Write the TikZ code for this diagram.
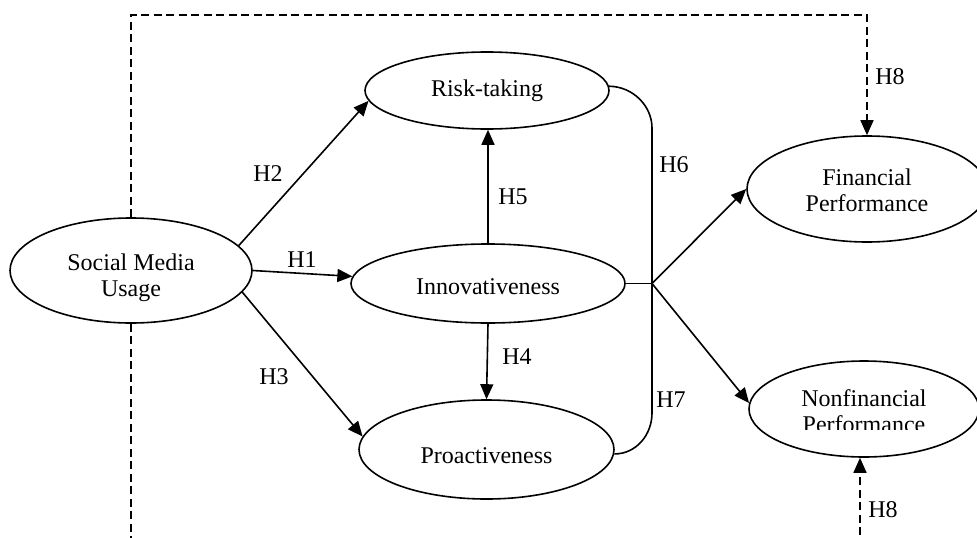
\documentclass[tikz,border=0pt]{standalone}
\usepackage{fontspec}
\setmainfont{Liberation Serif}
\usetikzlibrary{arrows.meta,shapes.geometric}
\begin{document}
\begin{tikzpicture}[x=1pt,y=-1pt,line width=1.6pt,
  every node/.style={font=\fontsize{24}{26}\selectfont},
  ell/.style={draw,ellipse,inner sep=0pt},
  txt/.style={inner sep=0pt,align=center},
  lbl/.style={inner sep=0pt},
  arr/.style={-{Triangle[length=15pt,width=13pt]}},
  dsh/.style={dash pattern=on 8pt off 4.5pt}]
\useasboundingbox (0,0) rectangle (977,538);
% ellipses
\node[ell,minimum width=242pt,minimum height=105pt] (smu) at (131,270.5) {};
\node[ell,minimum width=244pt,minimum height=77pt] (risk) at (487,90.5) {};
\node[ell,minimum width=274pt,minimum height=79pt] (innov) at (488,283.5) {};
\node[ell,minimum width=255pt,minimum height=99pt] (proact) at (486.5,449.5) {};
\node[ell,minimum width=240pt,minimum height=106pt] (fin) at (867,189) {};
\node[ell,minimum width=230pt,minimum height=96pt] (nonfin) at (864,409) {};
% texts
\node[txt] (smut) at (131,277.5) {Social Media\\Usage};
\node[txt] (riskt) at (487,90.5) {Risk-taking};
\node[txt] (innovt) at (488,286.5) {Innovativeness};
\node[txt] (proactt) at (486.5,455.5) {Proactiveness};
\node[txt] (fint) at (867,190.5) {Financial\\Performance};
\begin{scope}
  \clip (740,350) rectangle (990,429);
  \node[txt] (nonfint) at (864,411) {Nonfinancial\\Performance};
\end{scope}
% coordinates
\coordinate (jn) at (652,283.5);
\coordinate (tl) at (131,15);
\coordinate (tr) at (867,15);
\coordinate (bl) at (131,560);
\coordinate (br) at (860,560);
% solid arrows
\draw[arr] (smu.east) -- (innov.177);
\draw[arr] (smu.13) -- (risk.185);
\draw[arr] (smu.-11) -- (proact.174);
\draw[arr] (innov.north) -- (innov.north |- risk.south);
\draw[arr] (innov.south) -- (proact.north);
% bracket
\draw (risk.2) .. controls (633,86.5) and (652,106) .. (652,128) -- (652,413)
      .. controls (652,435) and (636,454) .. (proact.-2);
\draw (innov.east) -- (jn);
\draw[arr] (jn) -- (fin.west);
\draw[arr] (jn) -- (nonfin.177);
% dashed
\draw[dsh,arr] (smu.north) -- (tl) -- (tr) -- (fin.north);
\draw[dsh] (smu.south) -- (bl);
\draw[dsh,arr] (br) -- (br |- nonfin.south);
% labels
\node[lbl] (h1) at (302,260) {H1};
\node[lbl] (h2) at (268,174) {H2};
\node[lbl] (h3) at (274,377) {H3};
\node[lbl] (h4) at (517,357) {H4};
\node[lbl] (h5) at (513,197) {H5};
\node[lbl] (h6) at (674,165) {H6};
\node[lbl] (h7) at (671,400) {H7};
\node[lbl] (h8a) at (890,77) {H8};
\node[lbl] (h8b) at (883,510) {H8};
\end{tikzpicture}
\end{document}
